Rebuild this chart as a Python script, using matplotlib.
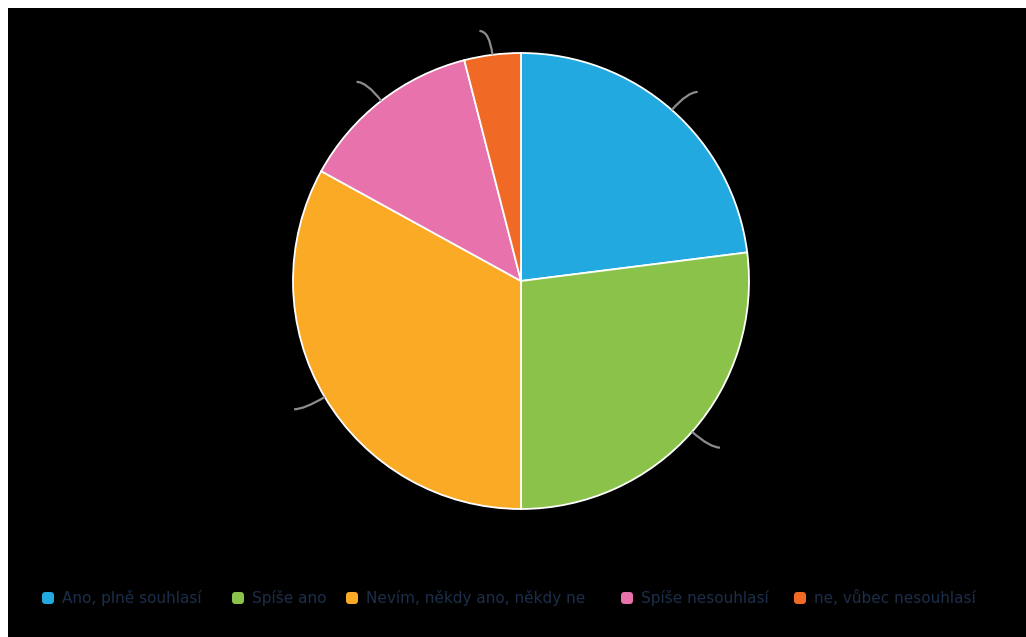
import numpy as np
import matplotlib
matplotlib.use('Agg')
import matplotlib.pyplot as plt
from matplotlib.path import Path
from matplotlib.patches import PathPatch, FancyBboxPatch

labels = ['Ano, plně souhlasí', 'Spíše ano', 'Nevím, někdy ano, někdy ne',
          'Spíše nesouhlasí', 'ne, vůbec nesouhlasí']
values = [23, 27, 33, 13, 4]
colors = ['#22aae0', '#8bc34a', '#fbaa26', '#e872ab', '#f06a25']

W, H = 1026, 637
fig = plt.figure(figsize=(W / 100, H / 100), dpi=100)
fig.patch.set_facecolor('white')
ax = fig.add_axes([0, 0, 1, 1])
ax.set_xlim(0, W)
ax.set_ylim(0, H)
ax.set_aspect('equal')
ax.axis('off')

# black plotting area with a thin white margin top/left
ax.add_patch(plt.Rectangle((8, 0), W - 8, H - 8, facecolor='black', edgecolor='none'))

cx, cy, R = 521, H - 281, 228
wedges, _ = ax.pie(values, colors=colors, startangle=90, counterclock=False,
                   center=(cx, cy), radius=R, frame=True,
                   wedgeprops=dict(edgecolor='white', linewidth=1.3))
ax.set_xlim(0, W)
ax.set_ylim(0, H)
ax.axis('off')

# leader lines for each slice
for w in wedges:
    mid = np.deg2rad((w.theta1 + w.theta2) / 2)
    d = np.array([np.cos(mid), np.sin(mid)])
    p0 = np.array([cx, cy]) + d * R
    p1 = np.array([cx, cy]) + d * (R + 24)
    side = 1 if d[0] >= 0 else -1
    p2 = p1 + np.array([side * 10, 0])
    path = Path([p0, p1, p2], [Path.MOVETO, Path.CURVE3, Path.CURVE3])
    ax.add_patch(PathPatch(path, facecolor='none', edgecolor='#8c8c8c', lw=1.6))

# legend row
marker_x = [48, 238, 352, 627, 800]
ly = H - 598
for mx, lab, c in zip(marker_x, labels, colors):
    ax.add_patch(FancyBboxPatch((mx - 6, ly - 6), 12, 12,
                                boxstyle='round,pad=0,rounding_size=3.5',
                                facecolor=c, edgecolor='none'))
    ax.text(mx + 14, ly, lab, color='#1c2e4a', fontsize=11, family='DejaVu Sans',
            va='center', ha='left')

fig.savefig('out.png', dpi=100, facecolor=fig.get_facecolor())
